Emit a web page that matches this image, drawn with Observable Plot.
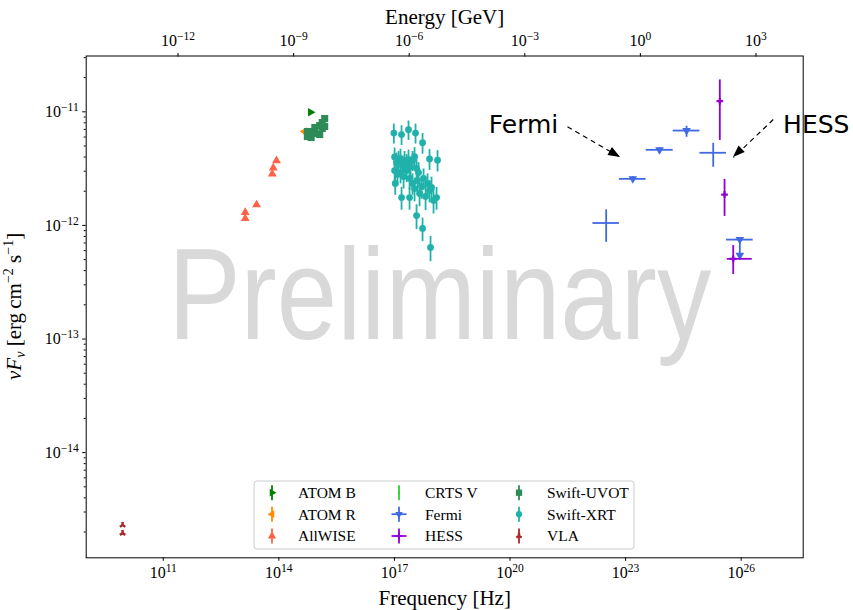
<!DOCTYPE html>
<html><head><meta charset="utf-8">
<script src="https://cdn.jsdelivr.net/npm/d3@7"></script>
<script src="https://cdn.jsdelivr.net/npm/@observablehq/plot@0.6"></script>
<style>body{margin:0;background:#fff}#chart{position:relative;width:853px;height:610px}</style>
</head><body><div id="chart"></div>
<script>
const GEV_TO_HZ = 2.418e23;

// ---- tick values ----
const freqTicks = [1e11, 1e14, 1e17, 1e20, 1e23, 1e26];
const energyTicks = [1e-12, 1e-9, 1e-6, 1e-3, 1, 1e3];
const fluxTicks = [1e-14, 1e-13, 1e-12, 1e-11];
const fluxMinorMant = [2, 3, 4, 5, 6, 7, 8, 9];
const fluxMinorExp = [-15, -14, -13, -12, -11];

// ---- VLA ----
const vlaNu = [8.8e9, 8.8e9];
const vlaF = [2.3e-15, 1.95e-15];

// ---- AllWISE ----
const wiseNu = [8.7e13, 7.16e13, 6.75e13, 2.64e13, 1.34e13, 1.34e13];
const wiseF = [3.72e-12, 3.21e-12, 2.84e-12, 1.52e-12, 1.30e-12, 1.15e-12];
const wiseErr = [0.1e-12, 0.08e-12, 0.08e-12, 0.05e-12, 0.06e-12, 0.06e-12];

// ---- ATOM / CRTS ----
const atomBNu = [6.65e14], atomBF = [9.9e-12], atomBErr = [0.2e-12];
const atomRNu = [4.65e14], atomRF = [6.7e-12], atomRErr = [0.2e-12];
const crtsNu = [5.45e14], crtsF = [6.6e-12], crtsErr = [0.5e-12];

// ---- Swift-UVOT ----
const uvotNu = [5.5e14, 5.5e14, 6.9e14, 6.9e14, 8.6e14, 8.6e14, 1.15e15, 1.15e15, 1.34e15, 1.34e15, 1.55e15, 1.55e15];
const uvotF = [6.06e-12, 6.71e-12, 6.71e-12, 5.94e-12, 7.28e-12, 6.44e-12, 7.57e-12, 6.31e-12, 8.05e-12, 7.13e-12, 8.73e-12, 7.43e-12];

// ---- Swift-XRT ----
const xrtNu = [9.66e16, 1.53e17, 2.32e17, 3.53e17, 5.37e17, 8.15e17, 1.315e18,
  1.01e17, 1.135e17, 1.28e17, 1.44e17, 1.63e17, 1.83e17, 2.07e17, 2.32e17, 2.62e17, 2.95e17, 3.33e17, 3.75e17, 4.23e17,
  1.01e17, 1.2e17, 1.44e17, 1.73e17, 2.07e17, 2.47e17,
  2.95e17, 3.33e17, 3.98e17, 4.49e17, 5.06e17, 5.70e17, 6.43e17, 7.24e17, 8.15e17, 9.18e17, 1.035e18, 1.24e18,
  1.05e17, 1.53e17, 2.47e17, 3.75e17, 5.37e17, 8.65e17];
const xrtF = [6.5e-12, 6.3e-12, 6.95e-12, 6.5e-12, 5.34e-12, 3.85e-12, 3.75e-12,
  4.0e-12, 3.58e-12, 3.73e-12, 3.88e-12, 3.37e-12, 3.73e-12, 3.51e-12, 3.80e-12, 3.30e-12, 3.73e-12, 4.04e-12, 3.17e-12, 2.92e-12,
  3.04e-12, 2.81e-12, 2.92e-12, 2.69e-12, 3.04e-12, 2.59e-12,
  2.34e-12, 2.11e-12, 2.48e-12, 1.91e-12, 2.20e-12, 2.59e-12, 1.80e-12, 2.34e-12, 2.03e-12, 2.16e-12, 1.66e-12, 1.76e-12,
  2.34e-12, 1.76e-12, 1.76e-12, 1.22e-12, 9.4e-13, 6.4e-13];
const xrtErr = [1.3e-12, 1.25e-12, 1.35e-12, 1.3e-12, 1.1e-12, 0.8e-12, 0.8e-12,
  0.8e-12, 0.75e-12, 0.75e-12, 0.8e-12, 0.7e-12, 0.75e-12, 0.7e-12, 0.8e-12, 0.7e-12, 0.75e-12, 0.8e-12, 0.7e-12, 0.65e-12,
  0.65e-12, 0.6e-12, 0.6e-12, 0.6e-12, 0.65e-12, 0.55e-12,
  0.5e-12, 0.5e-12, 0.55e-12, 0.45e-12, 0.5e-12, 0.55e-12, 0.45e-12, 0.5e-12, 0.45e-12, 0.5e-12, 0.4e-12, 0.4e-12,
  0.5e-12, 0.4e-12, 0.4e-12, 0.3e-12, 0.22e-12, 0.16e-12];

// ---- Fermi ----
const fermiNu = [3.13e22, 1.54e23, 7.60e23, 3.82e24, 1.88e25, 9.23e25];
const fermiNuLo = [1.42e22, 6.9e22, 3.42e23, 1.72e24, 8.5e24, 4.16e25];
const fermiNuHi = [6.9e22, 3.42e23, 1.72e24, 8.5e24, 4.16e25, 2.05e26];
const fermiF = [1.05e-12, 2.57e-12, 4.63e-12, 6.84e-12, 4.36e-12, 7.5e-13];
const fermiFLo = [7.1e-13, 2.45e-12, 4.45e-12, 5.97e-12, 3.25e-12, 5.45e-13];
const fermiFHi = [1.37e-12, 2.69e-12, 4.81e-12, 7.47e-12, 5.29e-12, 7.5e-13];
const fermiTri = [false, true, true, true, false, true];
const fermiUL = [false, false, false, false, false, true];

// ---- HESS ----
const hessNu = [2.79e25, 3.70e25, 6.21e25];
const hessNuLo = [2.79e25, 3.70e25, 4.35e25];
const hessNuHi = [2.79e25, 3.70e25, 1.94e26];
const hessF = [1.24e-11, 1.87e-12, 5.08e-13];
const hessFLo = [5.6e-12, 1.20e-12, 3.70e-13];
const hessFHi = [1.91e-11, 2.54e-12, 6.65e-13];

// ---- annotations ----
const annLabels = ["Fermi", "HESS"];
const annTextNu = [2.24e20, 8.9e27];
const annTextF = [7.73e-12, 7.73e-12];
const annFromNu = [3.1e21, 6.8e26];
const annFromF = [7.4e-12, 8.55e-12];
const annToNu = [7.4e22, 6.3e25];
const annToF = [3.96e-12, 3.96e-12];

// ---- legend ----
const legendLabels = ["ATOM B", "ATOM R", "AllWISE", "CRTS V", "Fermi", "HESS", "Swift-UVOT", "Swift-XRT", "VLA"];
const legendColors = ["#008000", "#ff8c00", "#ff6347", "#32cd32", "#4169e1", "#9400d3", "#2e8b57", "#20b2aa", "#a52a2a"];

// ---- tables ----
const Y_DOMAIN = [1.186e-15, 3.10e-11];
const err = (nu, F, e) => nu.map((v, i) => ({nu: v, F: F[i], lo: F[i] - e[i], hi: F[i] + e[i]}));
const vla = vlaNu.map((v, i) => ({nu: v, F: vlaF[i]}));
const wise = err(wiseNu, wiseF, wiseErr);
const atomB = err(atomBNu, atomBF, atomBErr);
const atomR = err(atomRNu, atomRF, atomRErr);
const crts = err(crtsNu, crtsF, crtsErr);
const uvot = uvotNu.map((v, i) => ({nu: v, F: uvotF[i]}));
const xrt = err(xrtNu, xrtF, xrtErr);
const fermi = fermiNu.map((v, i) => ({nu: v, F: fermiF[i], nuLo: fermiNuLo[i], nuHi: fermiNuHi[i], lo: fermiFLo[i], hi: fermiFHi[i], tri: fermiTri[i], ul: fermiUL[i]}));
const hess = hessNu.map((v, i) => ({nu: v, F: hessF[i], nuLo: hessNuLo[i], nuHi: hessNuHi[i], lo: hessFLo[i], hi: hessFHi[i]}));
const ann = annLabels.map((l, i) => ({label: l, tx: annTextNu[i], ty: annTextF[i], x1: annFromNu[i], y1: annFromF[i], x2: annToNu[i], y2: annToF[i]}));
const fluxMinor = fluxMinorExp.flatMap(e => fluxMinorMant.map(m => m * Math.pow(10, e)))
  .filter(v => v >= Y_DOMAIN[0] && v <= Y_DOMAIN[1]);

const C = Object.fromEntries(legendLabels.map((l, i) => [l, legendColors[i]]));
const EW = 1.8;

const plot = Plot.plot({
  width: 853, height: 610,
  marginLeft: 85.7, marginRight: 50.3, marginTop: 55.5, marginBottom: 52.7,
  style: {fontFamily: "Liberation Serif", fontSize: "16px", background: "white", color: "black", overflow: "visible"},
  x: {type: "log", domain: [1e9, 4.07e27]},
  y: {type: "log", domain: Y_DOMAIN},
  marks: [
    Plot.text(["Preliminary"], {frameAnchor: "middle", dx: -5, dy: -10, fontSize: 130, fill: "#d9d9d9", fontFamily: "Liberation Sans"}),
    // ATOM B
    Plot.ruleX(atomB, {x: "nu", y1: "lo", y2: "hi", stroke: C["ATOM B"], strokeWidth: EW}),
    Plot.dot(atomB, {x: "nu", y: "F", symbol: "triangle", rotate: 90, r: 3.2, fill: C["ATOM B"]}),
    // ATOM R
    Plot.ruleX(atomR, {x: "nu", y1: "lo", y2: "hi", stroke: C["ATOM R"], strokeWidth: EW}),
    Plot.dot(atomR, {x: "nu", y: "F", symbol: "triangle", rotate: -90, r: 3.2, fill: C["ATOM R"]}),
    // AllWISE
    Plot.ruleX(wise, {x: "nu", y1: "lo", y2: "hi", stroke: C["AllWISE"], strokeWidth: EW}),
    Plot.dot(wise, {x: "nu", y: "F", symbol: "triangle", r: 3.3, fill: C["AllWISE"]}),
    // CRTS V
    Plot.ruleX(crts, {x: "nu", y1: "lo", y2: "hi", stroke: C["CRTS V"], strokeWidth: EW}),
    Plot.dot(crts, {x: "nu", y: "F", r: 1.5, fill: C["CRTS V"]}),
    // Fermi
    Plot.ruleY(fermi, {y: "F", x1: "nuLo", x2: "nuHi", stroke: C["Fermi"], strokeWidth: EW}),
    Plot.ruleX(fermi, {x: "nu", y1: "lo", y2: "hi", stroke: C["Fermi"], strokeWidth: EW}),
    Plot.dot(fermi.filter(d => d.tri), {x: "nu", y: "F", symbol: "triangle", rotate: 180, r: 3.2, fill: C["Fermi"]}),
    Plot.dot(fermi.filter(d => d.ul), {x: "nu", y: "lo", symbol: "triangle", rotate: 180, r: 3.2, fill: C["Fermi"]}),
    // HESS
    Plot.ruleY(hess, {y: "F", x1: "nuLo", x2: "nuHi", stroke: C["HESS"], strokeWidth: EW}),
    Plot.ruleX(hess, {x: "nu", y1: "lo", y2: "hi", stroke: C["HESS"], strokeWidth: EW}),
    Plot.dot(hess, {x: "nu", y: "F", symbol: "cross", r: 2.8, fill: C["HESS"]}),
    // Swift-UVOT
    Plot.dot(uvot, {x: "nu", y: "F", symbol: "square", r: 4.0, fill: C["Swift-UVOT"]}),
    // Swift-XRT
    Plot.ruleX(xrt, {x: "nu", y1: "lo", y2: "hi", stroke: C["Swift-XRT"], strokeWidth: EW}),
    Plot.dot(xrt, {x: "nu", y: "F", r: 3.4, fill: C["Swift-XRT"]}),
    // VLA
    Plot.dot(vla, {x: "nu", y: "F", symbol: "wye", rotate: 180, r: 2.6, fill: C["VLA"]}),
    // annotations
    Plot.link(ann, {x1: "x1", y1: "y1", x2: "x2", y2: "y2", stroke: "black", strokeWidth: 1.2, strokeDasharray: "5,4"}),
    Plot.text(ann, {x: "tx", y: "ty", text: "label", fontSize: 25, fontFamily: "DejaVu Sans", fill: "black"}),
    // axes
    Plot.frame({stroke: "black", strokeWidth: 1}),
    Plot.axisX({anchor: "bottom", ticks: freqTicks, tickFormat: d => "10^" + Math.round(Math.log10(d)), tickSize: 3.5, tickPadding: 5, label: null, fontSize: 16}),
    Plot.axisX({anchor: "top", ticks: energyTicks.map(e => e * GEV_TO_HZ), tickFormat: d => "10^" + Math.round(Math.log10(d / GEV_TO_HZ)), tickSize: 3.5, tickPadding: 7, label: null, fontSize: 16}),
    Plot.axisY({anchor: "left", ticks: fluxTicks, tickFormat: d => "10^" + Math.round(Math.log10(d)), tickSize: 3.5, tickPadding: 4, label: null, fontSize: 16}),
    Plot.axisY({anchor: "left", ticks: fluxMinor, tickFormat: () => "", tickSize: 2, label: null}),
    Plot.text(["Frequency [Hz]"], {frameAnchor: "bottom", lineAnchor: "middle", dy: 40, fontSize: 21, fill: "black"}),
    Plot.text(["Energy [GeV]"], {frameAnchor: "top", lineAnchor: "middle", dy: -39, fontSize: 21, fill: "black"})
  ]
});

document.getElementById("chart").appendChild(plot);
const svg = d3.select(plot);

// superscript tick labels
svg.selectAll("text").filter(function () { return /^10\^/.test(this.textContent); }).each(function () {
  const exp = this.textContent.slice(3).replace("-", "\u2212");
  const t = d3.select(this);
  t.text(null);
  t.append("tspan").text("10");
  t.append("tspan").attr("dy", "-0.5em").attr("font-size", "0.72em").text(exp);
});

// watermark width
svg.selectAll("text").filter(function () { return this.textContent === "Preliminary"; })
  .attr("textLength", 543).attr("lengthAdjust", "spacingAndGlyphs");

// arrow heads using the plot's scales
const sx = plot.scale("x"), sy = plot.scale("y");
ann.forEach(a => {
  const x1 = sx.apply(a.x1), y1 = sy.apply(a.y1), x2 = sx.apply(a.x2), y2 = sy.apply(a.y2);
  const L = Math.hypot(x2 - x1, y2 - y1), ux = (x2 - x1) / L, uy = (y2 - y1) / L;
  const hl = 12, hw = 4.5;
  const bx = x2 - ux * hl, by = y2 - uy * hl;
  svg.append("path")
    .attr("d", `M${x2},${y2}L${bx - uy * hw},${by + ux * hw}L${bx + uy * hw},${by - ux * hw}Z`)
    .attr("fill", "black");
});

// y-axis label
const my = (55.5 + 557.3) / 2;
const yl = svg.append("text").attr("transform", `translate(21,${my}) rotate(-90)`)
  .attr("text-anchor", "middle").attr("font-family", "Liberation Serif").attr("font-size", 21).attr("fill", "black");
yl.append("tspan").attr("font-style", "italic").text("\u03bdF");
yl.append("tspan").attr("font-style", "italic").attr("font-size", 14).attr("dy", 4).text("\u03bd");
yl.append("tspan").attr("dy", -4).text(" [erg\u2009cm");
yl.append("tspan").attr("font-size", 14).attr("dy", -8).text("\u22122");
yl.append("tspan").attr("dy", 8).text(" s");
yl.append("tspan").attr("font-size", 14).attr("dy", -8).text("\u22121");
yl.append("tspan").attr("dy", 8).text("]");

// legend
const lg = svg.append("g");
const bx0 = 254, by0 = 481, bw = 380, bh = 68;
lg.append("rect").attr("x", bx0).attr("y", by0).attr("width", bw).attr("height", bh).attr("rx", 3)
  .attr("fill", "white").attr("fill-opacity", 0.8).attr("stroke", "#cccccc");
const colMark = [272, 399, 519], colText = [298, 425, 547], rowY = [492.7, 514.2, 536];
const legSym = [
  [d3.symbolTriangle, 90, 26, false], [d3.symbolTriangle, -90, 26, false], [d3.symbolTriangle, 0, 30, false],
  [d3.symbolCircle, 0, 4, false], [d3.symbolTriangle, 180, 24, true], [d3.symbolCross, 0, 22, true],
  [d3.symbolSquare, 0, 40, false], [d3.symbolCircle, 0, 30, false], [d3.symbolWye, 180, 20, false]
];
legendLabels.forEach((lab, i) => {
  const c = Math.floor(i / 3), r = i % 3;
  const x = colMark[c], y = rowY[r], col = legendColors[i];
  lg.append("line").attr("x1", x).attr("x2", x).attr("y1", y - 7.5).attr("y2", y + 7.5).attr("stroke", col).attr("stroke-width", EW);
  if (legSym[i][3]) lg.append("line").attr("x1", x - 7.5).attr("x2", x + 7.5).attr("y1", y).attr("y2", y).attr("stroke", col).attr("stroke-width", EW);
  lg.append("path").attr("d", d3.symbol().type(legSym[i][0]).size(legSym[i][2])())
    .attr("transform", `translate(${x},${y}) rotate(${legSym[i][1]})`).attr("fill", col);
  lg.append("text").attr("x", colText[c]).attr("y", y).attr("dy", "0.35em").attr("text-anchor", "start")
    .attr("font-family", "Liberation Serif").attr("font-size", 15.5).attr("fill", "black").text(lab);
});
</script>
</body></html>
